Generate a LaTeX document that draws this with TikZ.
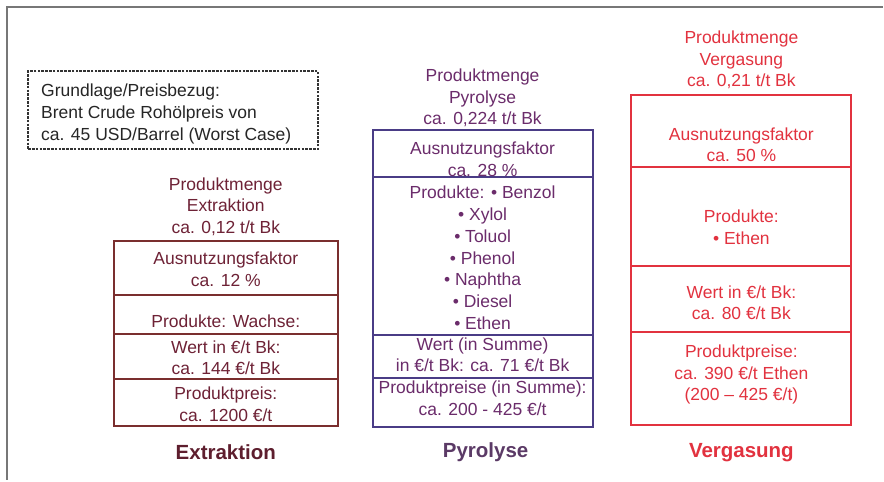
\documentclass[tikz,border=0pt]{standalone}
\usepackage{fontspec}
\setmainfont{Liberation Sans}
\definecolor{exB}{HTML}{7A2E2E}
\definecolor{exT}{HTML}{6E2236}
\definecolor{exH}{HTML}{5E1E2E}
\definecolor{pyB}{HTML}{4A3C86}
\definecolor{pyT}{HTML}{6B2C6B}
\definecolor{pyH}{HTML}{5B3A66}
\definecolor{vgR}{HTML}{E2323F}
\definecolor{frameC}{HTML}{777777}
\definecolor{dashC}{HTML}{333333}
\begin{document}
\begin{tikzpicture}[x=1pt,y=-1pt,
  txt/.style={font=\fontsize{17.5}{21.5}\selectfont, align=center, inner sep=0pt, text=#1},
  ttl/.style={font=\fontsize{20.5}{24}\selectfont\bfseries, inner sep=0pt, text=#1},
  sec/.style={draw=#1, line width=2pt, anchor=north west, inner sep=0pt, outer sep=0pt}
]
\fill[white] (0,0) rectangle (884,482);
% frame
\draw[frameC, line width=1.5pt] (7,480) -- (7,7) -- (884,7);

% basis box
\node[draw=dashC, line width=2.4pt, dash pattern=on 2.6pt off 1.2pt, anchor=north west,
      minimum width=290pt, minimum height=78pt, inner sep=0pt] (basis) at (27,70) {};
\node[font=\fontsize{17.5}{22}\selectfont, align=left, anchor=west, inner sep=0pt, text=black!85] (basistxt) at (41,114)
  {Grundlage/Preisbezug:\\Brent Crude Rohölpreis von\\ca. 45 USD/Barrel (Worst Case)};

% Extraktion
\node[txt=exT] (exhead) at (226,206.5) {Produktmenge\\Extraktion\\ca. 0,12 t/t Bk};
\node[sec=exB, minimum width=224pt, minimum height=54pt] (ex1) at (114,241) {};
\node[sec=exB, minimum width=224pt, minimum height=39pt] (ex2) at (114,295) {};
\node[sec=exB, minimum width=224pt, minimum height=45pt] (ex3) at (114,334) {};
\node[sec=exB, minimum width=224pt, minimum height=47pt] (ex4) at (114,379) {};
\node[txt=exT] (ex1t) at (226,269.5) {Ausnutzungsfaktor\\ca. 12 \%};
\node[txt=exT] (ex2t) at (226,322) {Produkte: Wachse:};
\node[txt=exT] (ex3t) at (226,358) {Wert in €/t Bk:\\ca. 144 €/t Bk};
\node[txt=exT] (ex4t) at (226,404.5) {Produktpreis:\\ca. 1200 €/t};
\node[ttl=exH] (extitle) at (226,453) {Extraktion};

% Pyrolyse
\node[txt=pyT] (pyhead) at (483,98) {Produktmenge\\Pyrolyse\\ca. 0,224 t/t Bk};
\node[sec=pyB, minimum width=220pt, minimum height=47pt] (py1) at (373,130) {};
\node[sec=pyB, minimum width=220pt, minimum height=158pt] (py2) at (373,177) {};
\node[sec=pyB, minimum width=220pt, minimum height=43pt] (py3) at (373,335) {};
\node[sec=pyB, minimum width=220pt, minimum height=49pt] (py4) at (373,378) {};
\node[txt=pyT] (py1t) at (483,159.5) {Ausnutzungsfaktor\\ca. 28 \%};
\node[txt=pyT, font=\fontsize{17.5}{21.7}\selectfont] (py2t) at (483,258) {Produkte: • Benzol\\• Xylol\\• Toluol\\• Phenol\\• Naphtha\\• Diesel\\• Ethen};
\node[txt=pyT] (py3t) at (483,355) {Wert (in Summe)\\in €/t Bk: ca. 71 €/t Bk};
\node[txt=pyT] (py4t) at (483,398.5) {Produktpreise (in Summe):\\ca. 200 - 425 €/t};
\node[ttl=pyH] (pytitle) at (486,453) {Pyrolyse};

% Vergasung
\node[txt=vgR] (vghead) at (742,60) {Produktmenge\\Vergasung\\ca. 0,21 t/t Bk};
\node[sec=vgR, minimum width=220pt, minimum height=72pt] (vg1) at (632,95) {};
\node[sec=vgR, minimum width=220pt, minimum height=99pt] (vg2) at (632,167) {};
\node[sec=vgR, minimum width=220pt, minimum height=66pt] (vg3) at (632,266) {};
\node[sec=vgR, minimum width=220pt, minimum height=93pt] (vg4) at (632,332) {};
\node[txt=vgR] (vg1t) at (742,145) {Ausnutzungsfaktor\\ca. 50 \%};
\node[txt=vgR] (vg2t) at (742,227.5) {Produkte:\\• Ethen};
\node[txt=vgR] (vg3t) at (742,303) {Wert in €/t Bk:\\ca. 80 €/t Bk};
\node[txt=vgR] (vg4t) at (742,375) {Produktpreise:\\ca. 390 €/t Ethen\\(200 – 425 €/t)};
\node[ttl=vgR] (vgtitle) at (742,453) {Vergasung};
\end{tikzpicture}
\end{document}
